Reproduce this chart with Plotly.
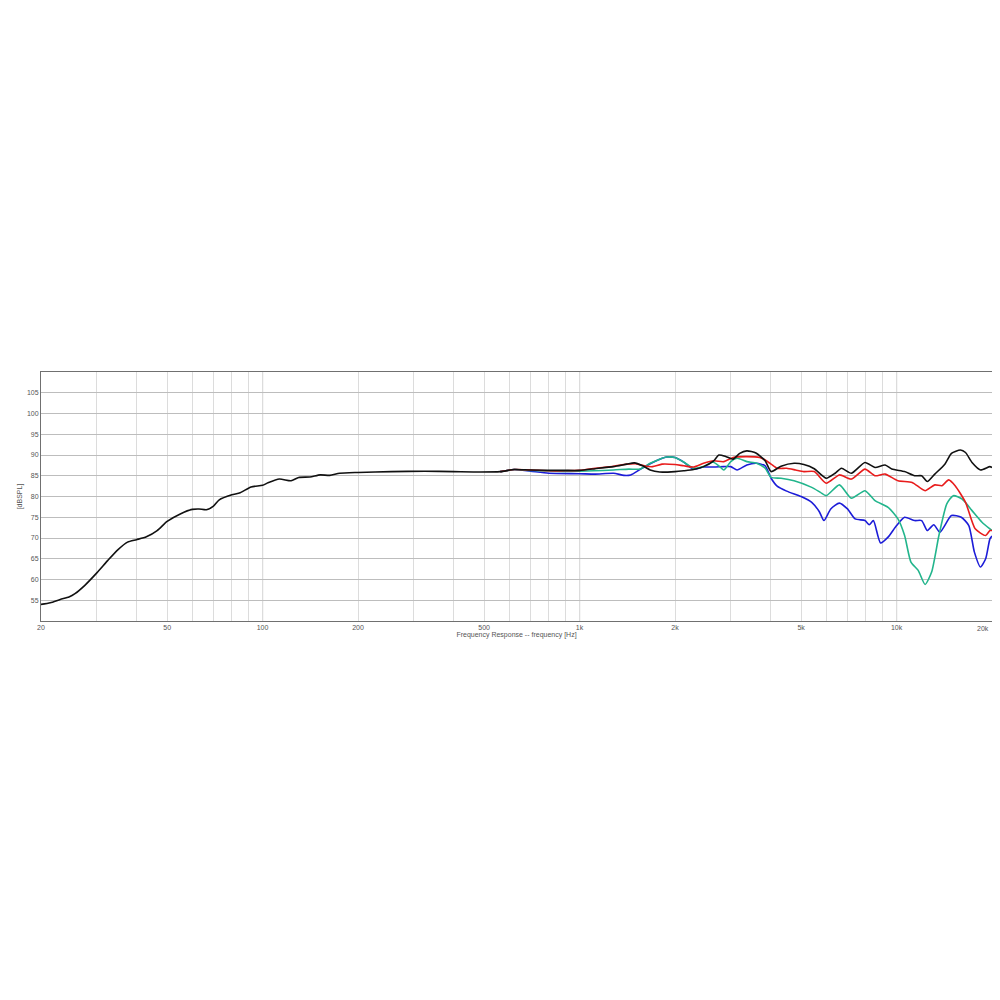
import math
import plotly.graph_objects as go

# black: on-axis response, full band
black_f = [20, 21.4, 23, 24.5, 25.6, 27.5, 30, 32.5, 35, 37.5, 40, 43, 46.5, 50, 55, 60, 63, 66.5,
           70, 73, 80, 85, 92, 100, 104, 113, 123, 130, 141, 152, 163, 175, 200, 255, 325, 400,
           486, 562, 622, 700, 900, 1000, 1120, 1280, 1410, 1490, 1580, 1670, 1790, 2000, 2130,
           2290, 2460, 2650, 2750, 2900, 3050, 3200, 3370, 3600, 3850, 4020, 4320, 4750, 5100,
           5500, 6000, 6400, 6700, 7200, 7950, 8550, 9200, 9660, 10600, 11400, 12000, 12500,
           13200, 14200, 14900, 15900, 16500, 17300, 18400, 19700, 20000]
black_db = [54.0, 54.4, 55.2, 55.8, 56.6, 58.6, 61.6, 64.6, 67.2, 69.0, 69.6, 70.3, 71.8, 74.0,
            75.8, 76.9, 77.0, 76.8, 77.7, 79.2, 80.4, 80.9, 82.3, 82.7, 83.3, 84.2, 83.8, 84.6,
            84.7, 85.2, 85.1, 85.6, 85.8, 86.0, 86.1, 86.0, 85.9, 86.0, 86.5, 86.4, 86.3, 86.3,
            86.7, 87.2, 87.8, 88.1, 87.4, 86.4, 85.9, 86.0, 86.2, 86.5, 87.2, 88.6, 90.0, 89.6,
            89.0, 90.4, 91.0, 90.5, 88.6, 86.0, 87.3, 88.0, 87.7, 86.7, 84.4, 85.6, 86.8, 85.6,
            88.2, 87.0, 87.6, 86.6, 86.0, 85.0, 85.0, 83.6, 85.4, 87.8, 90.4, 91.2, 90.6, 88.2,
            86.4, 87.2, 87.0]

red_f = [562, 622, 700, 800, 900, 1000, 1120, 1280, 1410, 1500, 1620, 1700, 1820, 2000, 2130,
         2290, 2460, 2650, 2850, 3050, 3370, 3700, 3850, 4020, 4200, 4500, 4800, 5100, 5500,
         6000, 6600, 7200, 7950, 8550, 9200, 10100, 11200, 12300, 13200, 13900, 14600, 15300,
         16500, 17700, 19100, 19700, 20000]
red_db = [86.0, 86.5, 86.4, 86.2, 86.2, 86.3, 86.8, 87.3, 87.8, 87.9, 87.3, 87.2, 87.8, 87.7,
          87.4, 87.1, 88.0, 88.6, 88.4, 89.4, 89.6, 89.4, 88.8, 87.8, 86.8, 86.8, 86.4, 86.0,
          86.0, 83.2, 85.2, 84.2, 86.6, 85.0, 85.4, 83.8, 83.4, 81.4, 82.8, 82.6, 84.0, 82.6,
          78.6, 72.2, 70.6, 71.8, 71.8]

green_f = [562, 622, 700, 800, 1000, 1280, 1430, 1550, 1670, 1790, 1880, 2000, 2130, 2290, 2460,
           2630, 2750, 2850, 3000, 3140, 3370, 3620, 3850, 4020, 4320, 4750, 5400, 5750, 6000,
           6600, 7200, 7950, 8550, 9400, 10100, 10600, 11100, 11700, 12300, 12900, 13600, 14400,
           15100, 16100, 17300, 18600, 19700, 20000]
green_db = [86.0, 86.5, 86.3, 86.1, 86.1, 86.4, 86.6, 86.6, 88.0, 89.0, 89.5, 89.4, 88.3, 86.8,
            87.2, 88.3, 87.4, 86.4, 88.4, 89.2, 88.4, 88.0, 86.8, 84.6, 84.4, 83.8, 82.2, 81.0,
            80.2, 82.8, 79.6, 81.4, 79.0, 77.4, 74.6, 70.6, 64.2, 62.2, 58.8, 61.8, 70.6, 78.2,
            80.2, 79.4, 76.6, 73.8, 72.2, 71.8]

blue_f = [562, 622, 700, 800, 1000, 1120, 1280, 1380, 1450, 1550, 1670, 1790, 1880, 2000, 2130,
          2290, 2460, 2650, 2850, 3000, 3140, 3370, 3620, 3850, 4020, 4200, 4500, 5000, 5400,
          5700, 5900, 6200, 6600, 7000, 7400, 7950, 8200, 8450, 8900, 9400, 10000, 10600, 11400,
          12000, 12500, 13100, 13700, 14900, 16000, 16900, 17600, 18400, 19100, 19700, 20000]
blue_db = [86.0, 86.5, 86.1, 85.6, 85.5, 85.4, 85.6, 85.1, 85.2, 86.5, 87.9, 89.0, 89.5, 89.4,
           88.3, 86.6, 87.1, 87.1, 87.2, 87.2, 86.4, 87.6, 88.0, 87.4, 84.4, 82.5, 81.3, 80.0,
           78.6, 76.4, 74.2, 77.0, 78.4, 77.0, 74.6, 74.2, 73.2, 74.2, 68.8, 70.2, 73.0, 75.0,
           74.2, 74.2, 71.8, 73.2, 71.4, 75.4, 75.0, 73.0, 66.6, 63.0, 65.0, 69.8, 70.5]

# grid / tick setup
grid_f = [20, 30, 40, 50, 60, 70, 80, 90, 100, 200, 300, 400, 500, 600, 700, 800, 900,
          1000, 2000, 3000, 4000, 5000, 6000, 7000, 8000, 9000, 10000, 20000]
labels = {20: "20", 50: "50", 100: "100", 200: "200", 500: "500", 1000: "1k",
          2000: "2k", 5000: "5k", 10000: "10k"}
last_label = (20000, "20k")  # drawn separately, right-aligned at the frame edge
major_f = [100, 1000, 10000]
db_ticks = [55, 60, 65, 70, 75, 80, 85, 90, 95, 100, 105]

fig = go.Figure()

# draw order: colored curves first, black on top
for f, db, color in [(blue_f, blue_db, "#1c1cd8"),
                     (green_f, green_db, "#22b58c"),
                     (red_f, red_db, "#e81c1c"),
                     (black_f, black_db, "#111111")]:
    fig.add_trace(go.Scatter(x=f, y=db, mode="lines",
                             line=dict(color=color, width=1.6, shape="spline", smoothing=0.6),
                             hoverinfo="x+y", showlegend=False))

# darker decade lines
for f in major_f:
    fig.add_shape(type="line", xref="x", yref="paper", x0=f, x1=f, y0=0, y1=1,
                  line=dict(color="#6e6e6e", width=1), layer="below")

font = dict(family="Liberation Sans, Arial, sans-serif", size=7, color="#555555")

# log axis: annotation x is given in log10 units
fig.add_annotation(x=math.log10(last_label[0]), y=0,
                   xref="x", yref="paper", text=last_label[1], showarrow=False,
                   xanchor="right", yanchor="top", xshift=-1, yshift=-2, font=font)

fig.update_xaxes(type="log", range=[1.30103, 4.30103],
                 tickvals=grid_f, ticktext=[labels.get(v, "") for v in grid_f],
                 showgrid=True, gridcolor="#dcdcdc", gridwidth=1,
                 showline=True, linecolor="#707070", linewidth=1, mirror=True,
                 ticks="", tickfont=font, zeroline=False, automargin=False,
                 title=dict(text="Frequency Response -- frequency [Hz]", font=font, standoff=1))
fig.update_yaxes(range=[50, 110], tickvals=db_ticks,
                 showgrid=True, gridcolor="#bdbdbd", gridwidth=1,
                 showline=True, linecolor="#707070", linewidth=1, mirror=True,
                 ticks="", tickfont=font, zeroline=False, automargin=False,
                 title=dict(text="[dBSPL]", font=font, standoff=3))

# page body adds ~8px offset, so the figure is a bit smaller than the window
fig.update_layout(width=990, height=980,
                  margin=dict(l=33, r=6, t=364, b=367),
                  paper_bgcolor="white", plot_bgcolor="white",
                  font=font)

fig.write_html("out.html")
